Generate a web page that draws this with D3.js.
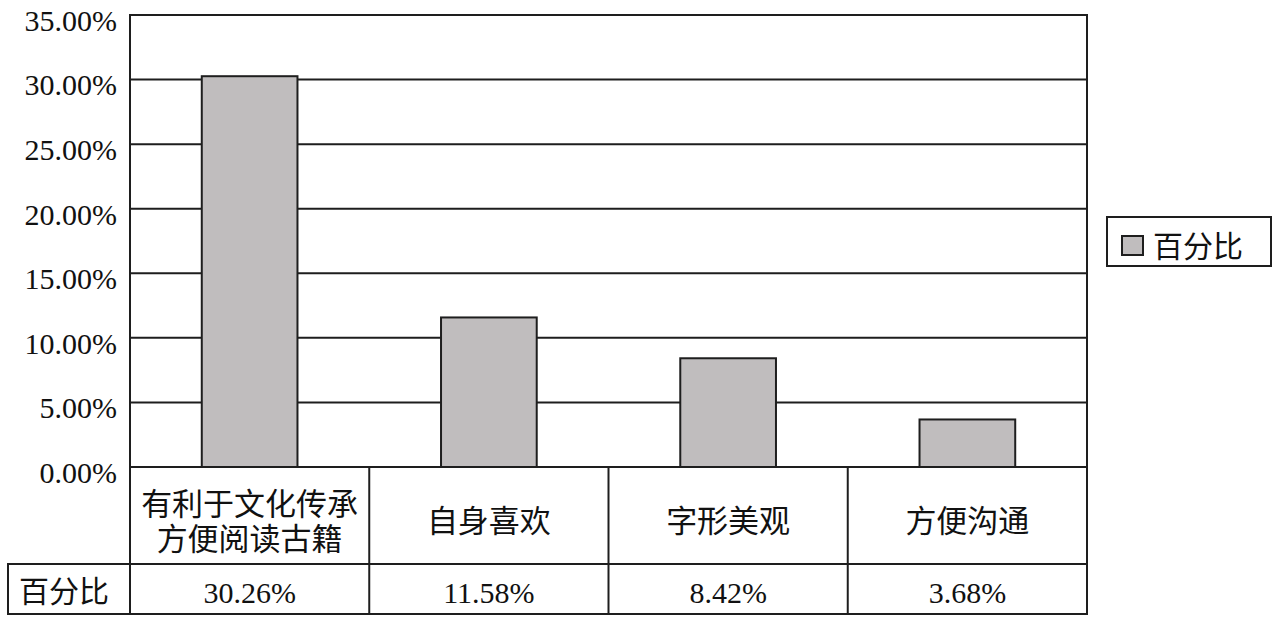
<!DOCTYPE html>
<html><head><meta charset="utf-8">
<script src="https://cdn.jsdelivr.net/npm/d3@7"></script>
<style>
body{margin:0;background:#fff;}
svg{display:block;}
</style></head>
<body><svg id="chart" width="1280" height="620"></svg>
<script>
const categories = [["有利于文化传承","方便阅读古籍"],["自身喜欢"],["字形美观"],["方便沟通"]];
const values = [30.26, 11.58, 8.42, 3.68];
const valueLabels = ["30.26%","11.58%","8.42%","3.68%"];
const yTicks = [0,5,10,15,20,25,30,35];
const seriesName = "百分比";

const svg = d3.select("#chart");
const L = 130, R = 1087, T = 15, B = 467;
const row1B = 564, row2B = 614, tableL = 8;
const ink = "#1e1e1e";
const serif = "'Liberation Serif','Times New Roman',serif";
const cjk = "'Noto Sans CJK SC','Noto Sans',sans-serif";

const x = d3.scaleBand().domain(d3.range(values.length)).range([L, R]).paddingInner(0).paddingOuter(0);
const y = d3.scaleLinear().domain([0, 35]).range([B, T]);

// gridlines
svg.append("g").selectAll("line").data(yTicks).join("line")
  .attr("x1", L).attr("x2", R).attr("y1", d => y(d)).attr("y2", d => y(d))
  .attr("stroke", ink).attr("stroke-width", 2);

// plot border verticals
svg.append("line").attr("x1", L).attr("x2", L).attr("y1", T-1).attr("y2", row2B+1).attr("stroke", ink).attr("stroke-width", 2);
svg.append("line").attr("x1", R).attr("x2", R).attr("y1", T-1).attr("y2", row2B+1).attr("stroke", ink).attr("stroke-width", 2);

// tick labels
svg.append("g").selectAll("text").data(yTicks).join("text")
  .attr("x", 117).attr("y", d => y(d) + 9)
  .attr("text-anchor", "end").attr("dominant-baseline", "middle")
  .attr("font-family", serif).attr("font-size", 30).attr("fill", "#111")
  .text(d => d3.format(".2f")(d) + "%");

// bars
const bw = x.bandwidth() * 0.4;
svg.append("g").selectAll("rect").data(values).join("rect")
  .attr("x", (d,i) => x(i) + (x.bandwidth() - bw)/2)
  .attr("y", d => y(d))
  .attr("width", bw)
  .attr("height", d => y(0) - y(d))
  .attr("fill", "#c0bdbe").attr("stroke", ink).attr("stroke-width", 2);

// table lines
svg.append("line").attr("x1", tableL).attr("x2", R).attr("y1", row1B).attr("y2", row1B).attr("stroke", ink).attr("stroke-width", 2);
svg.append("line").attr("x1", tableL).attr("x2", R).attr("y1", row2B).attr("y2", row2B).attr("stroke", ink).attr("stroke-width", 2);
svg.append("line").attr("x1", tableL).attr("x2", tableL).attr("y1", row1B-1).attr("y2", row2B+1).attr("stroke", ink).attr("stroke-width", 2);
svg.append("g").selectAll("line").data(d3.range(1, values.length)).join("line")
  .attr("x1", i => x(i)).attr("x2", i => x(i)).attr("y1", B).attr("y2", row2B)
  .attr("stroke", ink).attr("stroke-width", 2);

// category labels (one text per line)
const catG = svg.append("g");
categories.forEach((lines, i) => {
  const cx = x(i) + x.bandwidth()/2;
  const mid = (B + row1B)/2 + 3;
  const lh = 35;
  lines.forEach((ln, k) => {
    catG.append("text").attr("x", cx)
      .attr("y", mid + (k - (lines.length-1)/2) * lh)
      .attr("text-anchor", "middle").attr("dominant-baseline", "central")
      .attr("font-family", cjk).attr("font-size", 31).attr("fill", "#111").text(ln);
  });
});

// value row
svg.append("g").selectAll("text").data(valueLabels).join("text")
  .attr("x", (d,i) => x(i) + x.bandwidth()/2).attr("y", (row1B + row2B)/2 + 3)
  .attr("text-anchor", "middle").attr("dominant-baseline", "central")
  .attr("font-family", serif).attr("font-size", 30).attr("fill", "#111")
  .text(d => d);
svg.append("text").attr("x", 64).attr("y", (row1B + row2B)/2)
  .attr("text-anchor", "middle").attr("dominant-baseline", "central")
  .attr("font-family", cjk).attr("font-size", 30).attr("fill", "#111").text(seriesName);

// legend
const lg = svg.append("g");
lg.append("rect").attr("x", 1107).attr("y", 217).attr("width", 164).attr("height", 49)
  .attr("fill", "#fff").attr("stroke", ink).attr("stroke-width", 2);
lg.append("rect").attr("x", 1122).attr("y", 236).attr("width", 21).attr("height", 19)
  .attr("fill", "#c0bdbe").attr("stroke", ink).attr("stroke-width", 2);
lg.append("text").attr("x", 1153).attr("y", 244).attr("dominant-baseline", "central")
  .attr("font-family", cjk).attr("font-size", 30).attr("fill", "#111").text(seriesName);
</script>
</body></html>
